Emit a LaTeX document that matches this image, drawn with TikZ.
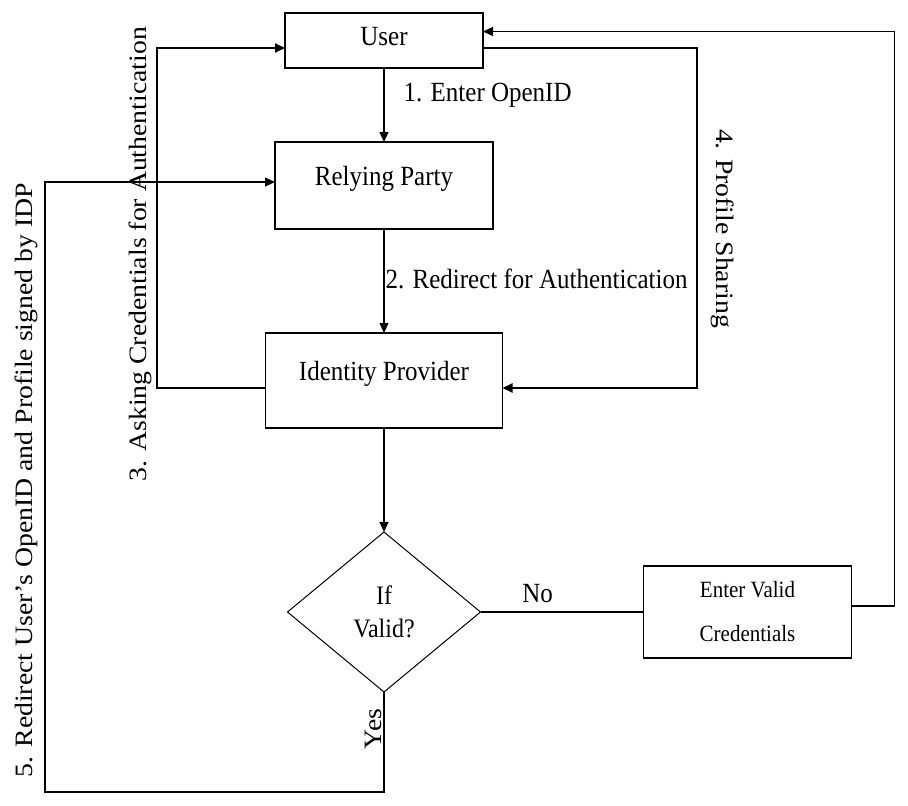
\documentclass[tikz,border=0pt]{standalone}
\usepackage{fontspec}
\setmainfont{Liberation Serif}
\usepackage{graphicx}
\usetikzlibrary{shapes.geometric, arrows.meta, positioning}
\newcommand{\tallt}[1]{\scalebox{1}[1.11]{#1}}
\newcommand{\longt}[1]{\scalebox{1.11}[1]{#1}}

\begin{document}
\begin{tikzpicture}[
        x=1pt, y=-1pt,
        every node/.style={font=\fontsize{25}{30}\selectfont},
        box/.style={rectangle, draw=black, line width=1.8pt, minimum width=218pt, minimum height=87pt, inner sep=0pt, outer sep=0pt},
        raised/.style={text depth=20pt},
        decision/.style={diamond, draw=black, line width=1pt, minimum width=193pt, minimum height=160pt, inner sep=0pt, outer sep=0pt, align=center, font=\fontsize{24}{33}\selectfont},
        arrow/.style={line width=1.2pt, -{Triangle[length=10pt,width=9pt]}},
        loopline/.style={arrow, line width=2pt},
        plain/.style={line width=1.2pt}
    ]
        \useasboundingbox (0,0) rectangle (908,806);

        % Main flow
        \node[box, minimum width=198pt, minimum height=55pt, text depth=8pt] (user) at (384,40.5) {\tallt{User}};
        \node[box, raised, below=74pt of user] (rp) {\tallt{Relying Party}};
        \node[box, raised, minimum width=237pt, minimum height=95pt, below=104pt of rp] (idp) {\tallt{Identity Provider}};

        % Check
        \node[decision, below=104pt of idp] (dia) {\tallt{If}\\\tallt{Valid?}};
        \node[box, minimum width=208pt, minimum height=92pt, align=center, font=\fontsize{21}{44}\selectfont, right=163pt of dia] (evc) {\tallt{Enter Valid}\\\tallt{Credentials}};

        % Steps 1 and 2
        \draw[arrow] (user) -- node[pos=0.374, right=19pt, inner sep=0pt] {\tallt{1. Enter OpenID}} (rp);
        \draw[arrow] (rp) -- node[pos=0.478, right=1pt, inner sep=0pt] {\tallt{2. Redirect for Authentication}} (idp);
        \draw[arrow] (idp) -- (dia);

        % Step 3
        \draw[loopline] ([yshift=-7.5pt]idp.west) -- ++(-108.5,0)
            -- node[pos=0.393, rotate=90, anchor=south, inner sep=4pt] {\longt{3. Asking Credentials for Authentication}} ++(0,-340)
            -- ([yshift=-7.5pt]user.west);

        % Step 4
        \draw[loopline] ([yshift=-7.5pt]user.east) -- ++(214,0)
            -- node[pos=0.531, rotate=-90, anchor=south, inner sep=13pt] {\longt{4. Profile Sharing}} ++(0,340)
            -- ([yshift=-7.5pt]idp.east);

        % No branch
        \draw[plain] (dia) -- node[pos=0.35, above=9pt, inner sep=0pt] {\tallt{No}} (evc);
        \draw[arrow] ([yshift=6pt]evc.east) -- ++(43,0) |- ([yshift=9pt]user.east);

        % Step 5 (Yes branch)
        \draw[arrow] (dia.south) -- node[pos=0.37, rotate=90, anchor=south, inner sep=2pt] {\longt{Yes}} ++(0,100)
            -- ++(-339,0)
            -- node[pos=0.511, rotate=90, anchor=south, inner sep=7pt] {\longt{5. Redirect User's OpenID and Profile signed by IDP}} ++(0,-610)
            -- ([yshift=3.5pt]rp.west);

    \end{tikzpicture}
\end{document}
